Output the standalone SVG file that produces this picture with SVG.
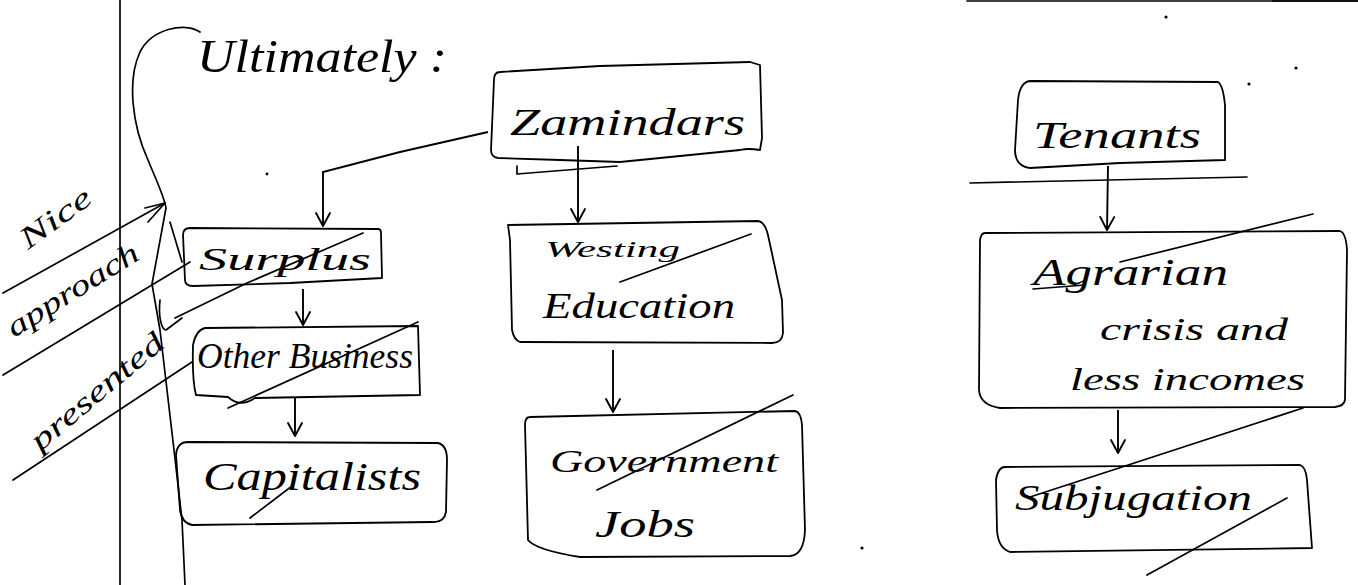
<svg xmlns="http://www.w3.org/2000/svg" width="1358" height="585" viewBox="0 0 1358 585">
<defs>
<style>
.bx{fill:none;stroke:#000;stroke-width:1.8;stroke-linejoin:round;stroke-linecap:round}
.ln{fill:none;stroke:#000;stroke-width:1.7;stroke-linecap:round;stroke-linejoin:round}
.ar{fill:none;stroke:#000;stroke-width:1.9;marker-end:url(#v)}
.t{font-family:"Liberation Serif",serif;font-style:italic;fill:#000}
</style>
<marker id="v" viewBox="-14 -10 16 20" markerWidth="16" markerHeight="20" refX="0" refY="0" orient="auto" markerUnits="userSpaceOnUse" overflow="visible">
<path d="M0,0 L-13,-7 M0,0 L-13,7" fill="none" stroke="#000" stroke-width="1.9" stroke-linecap="round"/>
</marker>
</defs>
<rect width="1358" height="585" fill="#fff"/>

<g id="margin">
<line x1="120" y1="0" x2="120" y2="585" class="ln" stroke-width="2.2"/>
<path class="ln" d="M200,32 C186,22 152,28 140,52 C127,80 132,125 148,160 C157,182 164,196 166,208 L152,284 L160,330 L167,390 L174,450 L182,520 L185,585"/>
<path class="ln" d="M170,222 L182,262"/>
<path class="ln" d="M160,300 C158,318 162,330 166,330 L182,318"/>
<line x1="967" y1="1" x2="1358" y2="1" class="ln" stroke="#888" stroke-width="1.5"/>
<line x1="1273" y1="1" x2="1358" y2="1" class="ln" stroke-width="4"/>
<circle cx="1166" cy="17" r="1.6"/>
<circle cx="1296" cy="68" r="1.6"/>
<circle cx="1249" cy="84" r="1.6"/>
<circle cx="267" cy="174" r="1.4"/>
<circle cx="862" cy="548" r="1.6"/>
</g>

<g id="note">
<path class="ln" d="M3,293 L165,203"/>
<path class="ln" d="M148,222 L165,203 L145,208"/>
<path class="ln" d="M3,375 L190,262"/>
<path class="ln" d="M13,480 L192,362"/>
<text class="t" font-size="30" transform="translate(28,250) rotate(-36)" textLength="82" lengthAdjust="spacingAndGlyphs">Nice</text>
<text class="t" font-size="30" transform="translate(14,338) rotate(-32)" textLength="150" lengthAdjust="spacingAndGlyphs">approach</text>
<text class="t" font-size="30" transform="translate(40,452) rotate(-40)" textLength="165" lengthAdjust="spacingAndGlyphs">presented</text>
</g>

<g id="ultimately">
<text class="t" x="197" y="72" font-size="46" textLength="250" lengthAdjust="spacingAndGlyphs">Ultimately :</text>
</g>

<g id="zamindars">
<path class="bx" d="M500,72 Q494,72 494,80 L491,150 Q491,157 498,158 L560,160 L620,162 L740,150 Q748,148 760,150 L762,138 L760,65 L750,62 L600,66 Z"/>
<path class="ln" d="M517,166 L517,174 L617,166"/>
<text class="t" x="510" y="135" font-size="38" textLength="235" lengthAdjust="spacingAndGlyphs">Zamindars</text>
</g>

<g id="surplus">
<path class="bx" d="M190,228 L378,229 Q381,229 381,233 L382,278 L290,283 L193,286 Q185,286 185,280 L183,235 Q183,228 190,228 Z"/>
<text class="t" x="199" y="270" font-size="32" textLength="172" lengthAdjust="spacingAndGlyphs">Surplus</text>
<path class="ln" d="M175,318 L247,283 L363,233"/>
</g>

<g id="other-business">
<path class="bx" d="M205,328 L418,326 L420,395 L255,398 Q240,408 228,397 L196,395 Q192,380 193,345 Q196,330 205,328 Z"/>
<text class="t" x="197" y="368" font-size="36" textLength="216" lengthAdjust="spacingAndGlyphs">Other Business</text>
<path class="ln" d="M228,408 L418,322"/>
</g>

<g id="capitalists">
<path class="bx" d="M188,442 L438,443 Q447,445 447,460 L446,512 Q444,523 432,522 L192,525 Q182,523 180,510 L176,455 Q177,442 188,442 Z"/>
<text class="t" x="203" y="490" font-size="40" textLength="218" lengthAdjust="spacingAndGlyphs">Capitalists</text>
<path class="ln" d="M250,518 L292,486"/>
</g>

<g id="westing-education">
<path class="bx" d="M508,225 L758,221 Q765,222 768,235 L782,300 L783,333 Q782,343 772,343 L520,342 Q514,340 512,330 L510,240 Z"/>
<text class="t" x="545" y="257" font-size="23" textLength="135" lengthAdjust="spacingAndGlyphs">Westing</text>
<text class="t" x="543" y="318" font-size="36" textLength="192" lengthAdjust="spacingAndGlyphs">Education</text>
<path class="ln" d="M751,234 L620,282"/>
</g>

<g id="government-jobs">
<path class="bx" d="M530,417 L795,411 Q801,412 802,425 L805,530 Q804,555 790,556 L580,557 Q536,550 528,540 L525,425 Q525,417 530,417 Z"/>
<text class="t" x="550" y="472" font-size="32" textLength="228" lengthAdjust="spacingAndGlyphs">Government</text>
<text class="t" x="595" y="537" font-size="38" textLength="100" lengthAdjust="spacingAndGlyphs">Jobs</text>
<path class="ln" d="M597,490 L793,395"/>
</g>

<g id="tenants">
<path class="bx" d="M1030,81 L1218,82 Q1223,85 1225,105 L1225,160 L1120,163 L1030,168 Q1015,166 1015,150 L1018,100 Q1020,82 1030,81 Z"/>
<text class="t" x="1033" y="148" font-size="38" textLength="168" lengthAdjust="spacingAndGlyphs">Tenants</text>
<path class="ln" d="M970,183 L1247,177"/>
</g>

<g id="agrarian">
<path class="bx" d="M985,233 L1340,231 Q1346,233 1347,250 L1345,400 Q1344,406 1335,407 L1000,408 Q980,405 979,390 L980,240 Q981,233 985,233 Z"/>
<text class="t" x="1033" y="285" font-size="38" textLength="195" lengthAdjust="spacingAndGlyphs">Agrarian</text>
<text class="t" x="1100" y="340" font-size="32" textLength="188" lengthAdjust="spacingAndGlyphs">crisis and</text>
<text class="t" x="1070" y="390" font-size="32" textLength="235" lengthAdjust="spacingAndGlyphs">less incomes</text>
<path class="ln" d="M1313,214 L1120,262"/>
<path class="ln" d="M1033,289 L1085,285"/>
</g>

<g id="subjugation">
<path class="bx" d="M1005,467 L1300,465 Q1306,467 1307,480 L1312,548 L1010,552 Q998,548 997,530 L996,480 Q998,467 1005,467 Z"/>
<text class="t" x="1015" y="510" font-size="36" textLength="237" lengthAdjust="spacingAndGlyphs">Subjugation</text>
<path class="ln" d="M1303,408 L1030,497"/>
<path class="ln" d="M1287,498 L1147,575"/>
</g>

<g id="connectors">
<path class="ar" d="M488,132 L400,152 L323,172 L323,226"/>
<path class="ar" d="M578,146 L578,222"/>
<path class="ar" d="M303,289 L303,325"/>
<path class="ar" d="M295,398 L295,436"/>
<path class="ar" d="M613,350 L613,412"/>
<path class="ar" d="M1108,166 L1107,230"/>
<path class="ar" d="M1118,410 L1118,453"/>
</g>
</svg>
